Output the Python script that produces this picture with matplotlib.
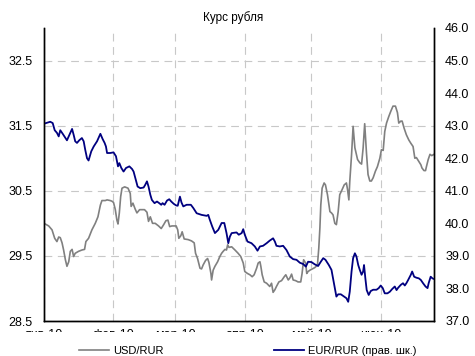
import numpy as np
import matplotlib
matplotlib.use("Agg")
import matplotlib.pyplot as plt
from matplotlib.patches import Rectangle

plt.rcParams['font.family'] = ['Liberation Sans', 'DejaVu Sans']

# Days since 2010-01-01 and exchange rates
usd_days = [0, 2.1, 3.6, 4.8, 5.8, 6.6, 7.3, 8.1, 8.8, 9.6, 10.3, 11.1, 11.8, 12.6, 13.3, 14.0,
            15.5, 17.0, 18.2, 18.8, 20.0, 21.5, 23.0, 24.2, 25.3, 26.0, 27.5, 28.3, 29.7, 30.5,
            31.2, 32.0, 32.7, 33.2, 33.8, 34.4, 35.0, 36.2, 37.7, 38.7, 39.1, 39.9, 40.9, 41.7,
            42.9, 43.9, 45.1, 46.2, 46.9, 47.7, 48.7, 49.9, 51.4, 52.6, 53.7, 54.7, 55.6, 56.4,
            57.4, 59.3, 60.0, 60.5, 61.4, 62.0, 62.9, 64.7, 66.2, 67.4, 68.0, 68.9, 70.0, 70.7,
            71.4, 72.5, 73.4, 74.0, 74.9, 75.2, 75.9, 76.7, 77.9, 78.9, 79.7, 80.4, 81.2, 81.9,
            82.4, 83.0, 84.2, 85.7, 87.1, 88.3, 89.4, 90.1, 91.3, 92.4, 93.4, 94.3, 95.4, 96.1,
            96.9, 97.3, 97.9, 98.8, 99.9, 101.3, 102.1, 102.8, 103.6, 104.3, 105.4, 106.6, 107.8,
            108.5, 109.6, 110.3, 111.1, 111.8, 112.9, 114.0, 115.2, 115.8, 116.5, 117.4, 117.9,
            118.5, 119.3, 121.5, 122.7, 123.3, 123.8, 124.2, 124.8, 125.7, 126.3, 127.2, 128.3,
            129.0, 129.7, 130.5, 131.2, 132.0, 132.7, 133.8, 134.7, 135.7, 136.2, 136.8, 137.2,
            138.0, 138.7, 139.5, 140.7, 141.7, 142.5, 143.2, 143.9, 144.7, 145.4, 146.2, 146.9,
            147.7, 148.7, 149.6, 150.7, 151.4, 152.2, 152.9, 153.7, 154.7, 155.6, 156.6, 157.7,
            158.6, 159.2, 160.1, 160.7, 161.6, 162.6, 163.7, 164.6, 165.6, 166.4, 167.1, 168.2,
            169.1, 169.6, 170.5, 171.2, 171.6, 172.4, 173.2, 174.0, 175.0]
usd_rur = [30.00, 29.96, 29.90, 29.77, 29.72, 29.79, 29.78, 29.70, 29.59, 29.44, 29.34, 29.41,
           29.57, 29.60, 29.49, 29.54, 29.57, 29.59, 29.60, 29.72, 29.77, 29.90, 30.00, 30.10,
           30.28, 30.35, 30.35, 30.36, 30.35, 30.34, 30.32, 30.21, 30.05, 29.99, 30.16, 30.41,
           30.54, 30.56, 30.54, 30.46, 30.26, 30.31, 30.22, 30.16, 30.21, 30.21, 30.21, 30.17,
           30.03, 30.10, 30.00, 30.00, 29.96, 29.92, 29.98, 30.04, 30.05, 29.95, 29.96, 29.96,
           29.90, 29.77, 29.81, 29.87, 29.76, 29.75, 29.73, 29.70, 29.54, 29.46, 29.31, 29.30,
           29.36, 29.43, 29.46, 29.40, 29.23, 29.13, 29.28, 29.34, 29.41, 29.49, 29.54, 29.57,
           29.60, 29.59, 29.67, 29.63, 29.64, 29.59, 29.54, 29.49, 29.39, 29.26, 29.23, 29.21,
           29.18, 29.21, 29.31, 29.39, 29.41, 29.34, 29.21, 29.10, 29.08, 29.03, 29.08, 28.94,
           28.98, 29.03, 29.10, 29.12, 29.18, 29.21, 29.13, 29.16, 29.22, 29.13, 29.12, 29.10,
           29.10, 29.23, 29.44, 29.39, 29.23, 29.26, 29.28, 29.32, 29.36, 29.62, 29.93, 30.28,
           30.54, 30.62, 30.59, 30.44, 30.18, 30.16, 30.13, 30.00, 29.98, 30.18, 30.44, 30.52,
           30.59, 30.62, 30.52, 30.36, 30.64, 31.05, 31.49, 31.16, 30.98, 30.93, 30.91, 31.16,
           31.53, 31.08, 30.75, 30.65, 30.65, 30.70, 30.80, 30.87, 31.00, 31.13, 31.12, 31.41,
           31.54, 31.64, 31.72, 31.80, 31.80, 31.70, 31.54, 31.57, 31.57, 31.46, 31.36, 31.28,
           31.23, 31.18, 31.00, 31.01, 30.95, 30.90, 30.85, 30.81, 30.81, 30.87, 30.98, 31.06,
           31.04, 31.06]

eur_days = [0, 2.8, 3.9, 4.8, 5.8, 6.6, 7.3, 8.4, 9.6, 10.3, 11.1, 12.6, 13.3, 14.0, 14.8, 15.8,
            17.0, 17.8, 18.5, 19.3, 20.0, 21.2, 22.3, 23.8, 25.3, 26.3, 27.2, 27.8, 28.3, 29.7,
            31.2, 32.3, 33.2, 33.8, 34.7, 35.7, 36.8, 38.3, 39.5, 40.2, 41.0, 42.0, 43.2, 44.7,
            45.4, 46.2, 46.9, 47.7, 48.4, 49.6, 50.7, 51.7, 52.6, 53.2, 54.1, 55.2, 56.2, 57.1,
            58.2, 59.3, 60.0, 61.0, 61.7, 62.5, 64.0, 65.9, 67.0, 68.5, 70.7, 73.0, 73.7, 74.4,
            75.5, 76.7, 78.2, 79.7, 80.9, 81.9, 82.7, 83.4, 84.2, 86.4, 87.4, 88.7, 89.4, 90.1,
            91.3, 93.1, 94.6, 95.8, 96.9, 98.3, 99.9, 101.3, 102.8, 103.6, 104.3, 105.8, 107.3,
            108.8, 110.3, 111.8, 113.3, 114.8, 116.3, 117.5, 118.5, 120.0, 121.5, 123.0, 124.2,
            125.3, 126.3, 127.8, 129.0, 129.7, 130.5, 131.2, 132.0, 133.2, 134.7, 135.7, 136.5,
            137.2, 138.0, 138.7, 139.5, 140.2, 141.0, 141.7, 142.5, 143.2, 143.6, 144.2, 144.8,
            145.7, 146.6, 147.7, 149.2, 150.2, 151.1, 152.0, 152.9, 154.1, 155.2, 156.2, 157.4,
            158.2, 158.9, 160.1, 161.1, 161.9, 162.6, 163.4, 164.6, 165.2, 166.1, 167.1, 168.2,
            169.1, 170.1, 171.2, 172.1, 172.6, 173.5, 174.3, 175.0]
eur_rur = [43.06, 43.12, 43.08, 42.86, 42.78, 42.67, 42.86, 42.75, 42.62, 42.55, 42.67, 42.90,
           42.72, 42.52, 42.47, 42.55, 42.62, 42.52, 42.26, 42.00, 41.93, 42.21, 42.36, 42.52,
           42.75, 42.59, 42.47, 42.36, 42.16, 42.16, 42.18, 42.06, 41.75, 41.85, 41.70, 41.59,
           41.70, 41.75, 41.67, 41.59, 41.39, 41.13, 41.08, 41.10, 41.18, 41.29, 41.13, 40.88,
           40.72, 40.62, 40.67, 40.62, 40.57, 40.62, 40.57, 40.70, 40.74, 40.67, 40.60, 40.55,
           40.54, 40.82, 40.64, 40.52, 40.57, 40.57, 40.47, 40.31, 40.26, 40.23, 40.26, 40.11,
           39.90, 39.70, 39.80, 40.01, 40.01, 39.70, 39.39, 39.59, 39.70, 39.72, 39.65, 39.70,
           39.82, 39.65, 39.44, 39.39, 39.29, 39.16, 39.29, 39.31, 39.39, 39.47, 39.54, 39.44,
           39.31, 39.29, 39.31, 39.18, 38.98, 38.90, 38.88, 38.79, 38.75, 38.67, 38.82, 38.81,
           38.74, 38.69, 38.82, 38.93, 38.88, 38.72, 38.57, 38.31, 38.01, 37.75, 37.82, 37.82,
           37.75, 37.70, 37.59, 37.90, 38.52, 38.93, 39.08, 38.98, 38.72, 38.57, 38.42, 38.52,
           38.72, 38.31, 37.95, 37.80, 37.92, 37.96, 37.96, 38.01, 38.09, 38.01, 37.85, 37.85,
           37.90, 37.98, 38.06, 37.95, 38.02, 38.11, 38.16, 38.09, 38.16, 38.26, 38.42, 38.52,
           38.36, 38.33, 38.31, 38.26, 38.16, 38.06, 38.01, 38.16, 38.36, 38.31, 38.29]

month_labels = ['янв-10', 'фев-10', 'мар-10', 'апр-10', 'май-10', 'июн-10']
left_ticks = [28.5, 29.5, 30.5, 31.5, 32.5]
right_ticks = [37.0, 38.0, 39.0, 40.0, 41.0, 42.0, 43.0, 44.0, 45.0, 46.0]

start = np.datetime64('2010-01-01T00:00')


def to_dates(days):
    return start + np.round(np.asarray(days) * 1440).astype('timedelta64[m]')


fig = plt.figure(figsize=(4.75, 3.56), dpi=100)
ax = fig.add_axes([44 / 475, 1 - 321 / 356, 390 / 475, 293 / 356])
ax2 = ax.twinx()

grid_kw = dict(color='#c8c8c8', linewidth=0.8, linestyle=(0, (7, 5)))
ax.grid(True, axis='both', **grid_kw)
ax.set_axisbelow(True)

ax.plot(to_dates(usd_days), usd_rur, color='#808080', linewidth=1.2, label='USD/RUR')
ax2.plot(to_dates(eur_days), eur_rur, color='#000080', linewidth=1.3,
         label='EUR/RUR (прав. шк.)')

ax.set_ylim(28.5, 33.0)
ax2.set_ylim(37.0, 46.0)
ax.set_yticks(left_ticks)
ax.set_yticklabels([f'{v:.1f}' for v in left_ticks])
ax2.set_yticks(right_ticks)
ax2.set_yticklabels([f'{v:.1f}' for v in right_ticks])

ax.set_xlim(to_dates([0])[0], to_dates([175])[0])
month_starts = np.arange('2010-01', '2010-07', dtype='datetime64[M]').astype('datetime64[m]')
ax.set_xticks(month_starts)
ax.set_xticklabels(month_labels)

for a in (ax, ax2):
    a.spines['top'].set_visible(False)
    for s in a.spines.values():
        s.set_linewidth(1.0)
        s.set_color('black')
    a.tick_params(length=0, labelsize=9, colors='black')
ax.tick_params(axis='y', pad=8)
ax2.tick_params(axis='y', pad=8)
ax.tick_params(axis='x', pad=5.5)

fig.text(233 / 475, 1 - 18 / 356, 'Курс рубля', ha='center', va='center', fontsize=8.5)

# white band below the axis labels
fig.add_artist(Rectangle((0, 0), 1, (356 - 332) / 356, transform=fig.transFigure,
                         facecolor='white', edgecolor='none', zorder=2))

h1, l1 = ax.get_legend_handles_labels()
h2, l2 = ax2.get_legend_handles_labels()
fig.legend(h1 + h2, l1 + l2, ncol=2, frameon=False, fontsize=8,
           loc='center', bbox_to_anchor=(247.5 / 475, 5 / 356),
           handlelength=2.7, handletextpad=0.36, columnspacing=9.9,
           borderpad=0, borderaxespad=0).set_zorder(5)

fig.savefig('out.png', dpi=100)
